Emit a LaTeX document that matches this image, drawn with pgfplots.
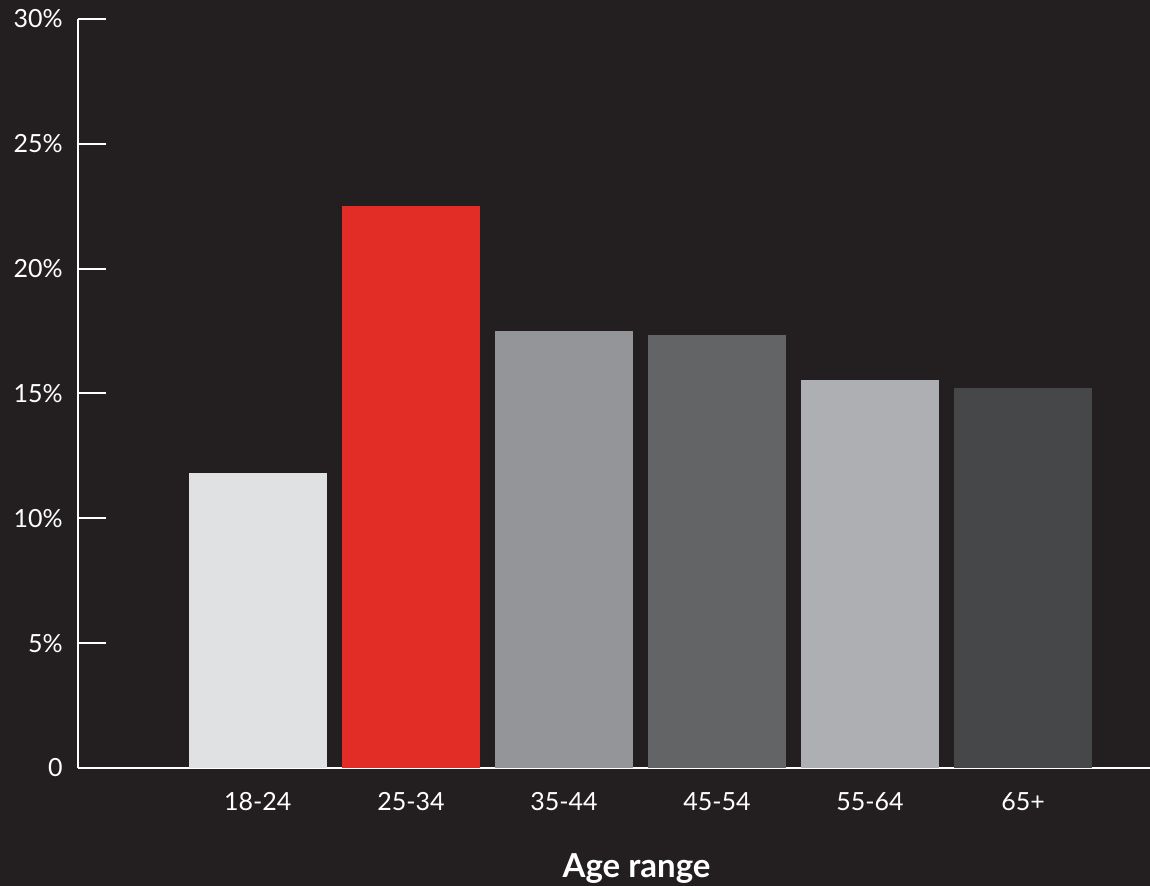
\documentclass[border=0pt]{standalone}
\usepackage{pgfplots}
\pgfplotsset{compat=1.18}
\usepackage{fontspec}
\setmainfont{Lato}
\definecolor{bgc}{HTML}{231F20}
\definecolor{cA}{HTML}{E0E1E3}
\definecolor{cB}{HTML}{E12D26}
\definecolor{cC}{HTML}{939598}
\definecolor{cD}{HTML}{636466}
\definecolor{cE}{HTML}{AEAFB2}
\definecolor{cF}{HTML}{454749}
\begin{document}
\begin{tikzpicture}
\useasboundingbox (0,0) rectangle (575pt,443pt);
\fill[bgc] (0,0) rectangle (575pt,443pt);
\clip (0,0) rectangle (575pt,443pt);
\begin{axis}[
  at={(39pt,59pt)}, anchor=south west,
  scale only axis, width=536pt, height=374.5pt,
  xmin=-1.175, xmax=5.829, ymin=0, ymax=30,
  axis lines=left, axis line style={-, white, line width=1pt},
  xtick={0,1,2,3,4,5},
  xticklabels={18-24,25-34,35-44,45-54,55-64,65+},
  ytick={0,5,10,15,20,25,30},
  yticklabels={0,5\%,10\%,15\%,20\%,25\%,30\%},
  tick align=inside, major tick length=14pt,
  ytick style={white, line width=1pt},
  xtick style={draw=none},
  ticklabel style={white, font=\fontsize{12.5}{14}\selectfont},
  yticklabel style={anchor=east, inner sep=0pt, xshift=-7.5pt},
  xticklabel style={anchor=north, inner sep=0pt, yshift=-12pt},
  xlabel={\bfseries Age range},
  xlabel style={white, font=\fontsize{16.5}{19}\selectfont\bfseries, at={(axis description cs:0.521,0)}, anchor=base, yshift=-55pt, inner sep=0pt},
  clip=false,
]
\addplot[ybar, bar width=0.9, fill=cA, draw=none] coordinates {(0,11.8)};
\addplot[ybar, bar width=0.9, fill=cB, draw=none] coordinates {(1,22.5)};
\addplot[ybar, bar width=0.9, fill=cC, draw=none] coordinates {(2,17.5)};
\addplot[ybar, bar width=0.9, fill=cD, draw=none] coordinates {(3,17.35)};
\addplot[ybar, bar width=0.9, fill=cE, draw=none] coordinates {(4,15.55)};
\addplot[ybar, bar width=0.9, fill=cF, draw=none] coordinates {(5,15.2)};
\end{axis}
\end{tikzpicture}
\end{document}
